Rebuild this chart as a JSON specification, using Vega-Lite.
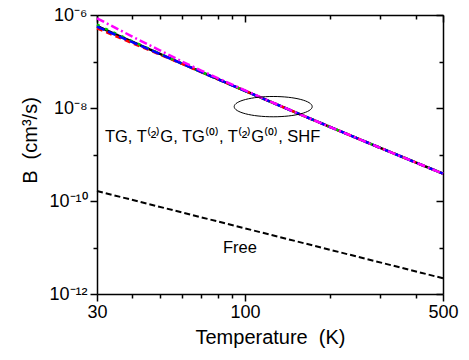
{
  "$schema": "https://vega.github.io/schema/vega-lite/v6.json",
  "width": 346,
  "height": 279,
  "autosize": "none",
  "padding": {"left": 97, "top": 15, "right": 26, "bottom": 66},
  "background": "white",
  "config": {
    "view": {"stroke": null},
    "font": "Liberation Sans",
    "axis": {"domainColor": "black", "tickColor": "black", "labelColor": "black", "titleColor": "black", "grid": false, "labelFont": "Liberation Sans", "titleFont": "Liberation Sans", "titleFontWeight": "normal", "domainWidth": 1.5, "tickWidth": 1.5, "labelOverlap": false, "labelFlush": false}
  },
  "datasets": {
    "curves": [
      {"series": "TG", "T": 30, "B": 5.79e-7}, {"series": "TG", "T": 40, "B": 2.66e-7}, {"series": "TG", "T": 50, "B": 1.46e-7}, {"series": "TG", "T": 60, "B": 8.97e-8}, {"series": "TG", "T": 70, "B": 5.96e-8}, {"series": "TG", "T": 80, "B": 4.19e-8}, {"series": "TG", "T": 100, "B": 2.33e-8}, {"series": "TG", "T": 150, "B": 8.14e-9}, {"series": "TG", "T": 200, "B": 3.89e-9}, {"series": "TG", "T": 300, "B": 1.39e-9}, {"series": "TG", "T": 400, "B": 6.76e-10}, {"series": "TG", "T": 500, "B": 3.88e-10},
      {"series": "T(2)G", "T": 30, "B": 5.18e-7}, {"series": "T(2)G", "T": 40, "B": 2.48e-7}, {"series": "T(2)G", "T": 50, "B": 1.41e-7}, {"series": "T(2)G", "T": 60, "B": 8.85e-8}, {"series": "T(2)G", "T": 70, "B": 5.92e-8}, {"series": "T(2)G", "T": 80, "B": 4.18e-8}, {"series": "T(2)G", "T": 100, "B": 2.33e-8}, {"series": "T(2)G", "T": 150, "B": 8.14e-9}, {"series": "T(2)G", "T": 200, "B": 3.89e-9}, {"series": "T(2)G", "T": 300, "B": 1.39e-9}, {"series": "T(2)G", "T": 400, "B": 6.76e-10}, {"series": "T(2)G", "T": 500, "B": 3.88e-10},
      {"series": "TG(0)", "T": 30, "B": 6.18e-7}, {"series": "TG(0)", "T": 40, "B": 2.72e-7}, {"series": "TG(0)", "T": 50, "B": 1.47e-7}, {"series": "TG(0)", "T": 60, "B": 8.99e-8}, {"series": "TG(0)", "T": 70, "B": 5.97e-8}, {"series": "TG(0)", "T": 80, "B": 4.19e-8}, {"series": "TG(0)", "T": 100, "B": 2.33e-8}, {"series": "TG(0)", "T": 150, "B": 8.14e-9}, {"series": "TG(0)", "T": 200, "B": 3.89e-9}, {"series": "TG(0)", "T": 300, "B": 1.39e-9}, {"series": "TG(0)", "T": 400, "B": 6.76e-10}, {"series": "TG(0)", "T": 500, "B": 3.88e-10},
      {"series": "T(2)G(0)", "T": 30, "B": 5.6e-7}, {"series": "T(2)G(0)", "T": 40, "B": 2.6e-7}, {"series": "T(2)G(0)", "T": 50, "B": 1.45e-7}, {"series": "T(2)G(0)", "T": 60, "B": 8.95e-8}, {"series": "T(2)G(0)", "T": 70, "B": 5.96e-8}, {"series": "T(2)G(0)", "T": 80, "B": 4.19e-8}, {"series": "T(2)G(0)", "T": 100, "B": 2.33e-8}, {"series": "T(2)G(0)", "T": 150, "B": 8.14e-9}, {"series": "T(2)G(0)", "T": 200, "B": 3.89e-9}, {"series": "T(2)G(0)", "T": 300, "B": 1.39e-9}, {"series": "T(2)G(0)", "T": 400, "B": 6.76e-10}, {"series": "T(2)G(0)", "T": 500, "B": 3.88e-10},
      {"series": "SHF", "T": 30, "B": 8.49e-7}, {"series": "SHF", "T": 40, "B": 3.43e-7}, {"series": "SHF", "T": 50, "B": 1.74e-7}, {"series": "SHF", "T": 60, "B": 9.95e-8}, {"series": "SHF", "T": 70, "B": 6.39e-8}, {"series": "SHF", "T": 80, "B": 4.39e-8}, {"series": "SHF", "T": 100, "B": 2.39e-8}, {"series": "SHF", "T": 150, "B": 8.14e-9}, {"series": "SHF", "T": 200, "B": 3.89e-9}, {"series": "SHF", "T": 300, "B": 1.39e-9}, {"series": "SHF", "T": 400, "B": 6.76e-10}, {"series": "SHF", "T": 500, "B": 3.88e-10},
      {"series": "Free", "T": 30, "B": 1.64e-10}, {"series": "Free", "T": 100, "B": 2.58e-11}, {"series": "Free", "T": 500, "B": 2.18e-12}
    ],
    "labels": [
      {"T": 32, "B": 1.86e-9, "text": "TG, T⁽²⁾G, TG⁽⁰⁾, T⁽²⁾G⁽⁰⁾, SHF"},
      {"T": 83.6, "B": 7.5e-12, "text": "Free"}
    ],
    "ellipse": [{"T": 125.7, "B": 1.07e-8}]
  },
  "layer": [
    {
      "data": {"name": "curves"},
      "transform": [{"filter": "datum.series != 'Free'"}],
      "mark": {"type": "line", "strokeWidth": 2.5},
      "encoding": {
        "x": {"field": "T", "type": "quantitative", "scale": {"type": "log", "domain": [30, 500], "nice": false},
          "axis": {"orient": "bottom", "values": [30, 40, 50, 60, 70, 80, 90, 100, 200, 300, 400, 500],
            "labelExpr": "datum.value == 30 ? '30' : datum.value == 100 ? '100' : datum.value == 500 ? '500' : ''",
            "tickSize": {"condition": {"test": "datum.value == 30 || datum.value == 100 || datum.value == 500", "value": 7}, "value": 4},
            "labelFontSize": 18, "labelPadding": 2, "title": "Temperature\u00a0\u00a0(K)", "titleFontSize": 20, "titlePadding": 6}},
        "y": {"field": "B", "type": "quantitative", "scale": {"type": "log", "domain": [1e-12, 1e-6], "nice": false},
          "axis": {"orient": "left", "values": [1e-12, 1e-11, 1e-10, 1e-9, 1e-8, 1e-7, 1e-6],
            "labelExpr": "round(log(datum.value)/LN10) == -6 ? '10⁻⁶' : round(log(datum.value)/LN10) == -8 ? '10⁻⁸' : round(log(datum.value)/LN10) == -10 ? '10⁻¹⁰' : round(log(datum.value)/LN10) == -12 ? '10⁻¹²' : ''",
            "tickSize": {"condition": {"test": "abs(round(log(datum.value)/LN10)) % 2 == 0", "value": 7}, "value": 4},
            "labelFontSize": 18, "labelPadding": 3, "title": "B\u00a0\u00a0(cm³/s)", "titleFontSize": 20, "titlePadding": 8, "titleY": 125}},
        "color": {"field": "series", "type": "nominal", "scale": {"domain": ["TG", "T(2)G", "TG(0)", "T(2)G(0)", "SHF"], "range": ["#000000", "#ff0000", "#00c800", "#0000ff", "#ff00ff"]}, "legend": null},
        "strokeDash": {"field": "series", "type": "nominal", "scale": {"domain": ["TG", "T(2)G", "TG(0)", "T(2)G(0)", "SHF"], "range": [[1, 0], [6, 4], [3, 6], [8, 4], [8, 3, 2, 3]]}, "legend": null}
      }
    },
    {
      "data": {"name": "curves"},
      "transform": [{"filter": "datum.series == 'Free'"}],
      "mark": {"type": "line", "strokeWidth": 2, "color": "black", "strokeDash": [6, 3]},
      "encoding": {
        "x": {"field": "T", "type": "quantitative", "scale": {"type": "log", "domain": [30, 500], "nice": false},
          "axis": {"orient": "top", "values": [30, 40, 50, 60, 70, 80, 90, 100, 200, 300, 400, 500], "labels": false, "title": null,
            "tickSize": {"condition": {"test": "datum.value == 30 || datum.value == 100 || datum.value == 500", "value": -7}, "value": -4}}},
        "y": {"field": "B", "type": "quantitative", "scale": {"type": "log", "domain": [1e-12, 1e-6], "nice": false},
          "axis": {"orient": "right", "values": [1e-12, 1e-11, 1e-10, 1e-9, 1e-8, 1e-7, 1e-6], "labels": false, "title": null,
            "tickSize": {"condition": {"test": "abs(round(log(datum.value)/LN10)) % 2 == 0", "value": -7}, "value": -4}}}
      }
    },
    {
      "data": {"name": "labels"},
      "mark": {"type": "text", "fontSize": 16.5, "font": "Liberation Sans", "color": "black", "baseline": "alphabetic", "align": "left"},
      "encoding": {
        "x": {"field": "T", "type": "quantitative", "scale": {"type": "log", "domain": [30, 500], "nice": false}, "axis": null},
        "y": {"field": "B", "type": "quantitative", "scale": {"type": "log", "domain": [1e-12, 1e-6], "nice": false}, "axis": null},
        "text": {"field": "text"}
      }
    },
    {
      "data": {"name": "ellipse"},
      "mark": {"type": "point", "shape": "M-1,0A1,0.26,0,1,0,1,0A1,0.26,0,1,0,-1,0Z", "size": 6084, "filled": false, "stroke": "black", "strokeWidth": 1, "opacity": 1},
      "encoding": {
        "x": {"field": "T", "type": "quantitative", "scale": {"type": "log", "domain": [30, 500], "nice": false}, "axis": null},
        "y": {"field": "B", "type": "quantitative", "scale": {"type": "log", "domain": [1e-12, 1e-6], "nice": false}, "axis": null}
      }
    }
  ],
  "resolve": {"axis": {"x": "independent", "y": "independent"}}
}
